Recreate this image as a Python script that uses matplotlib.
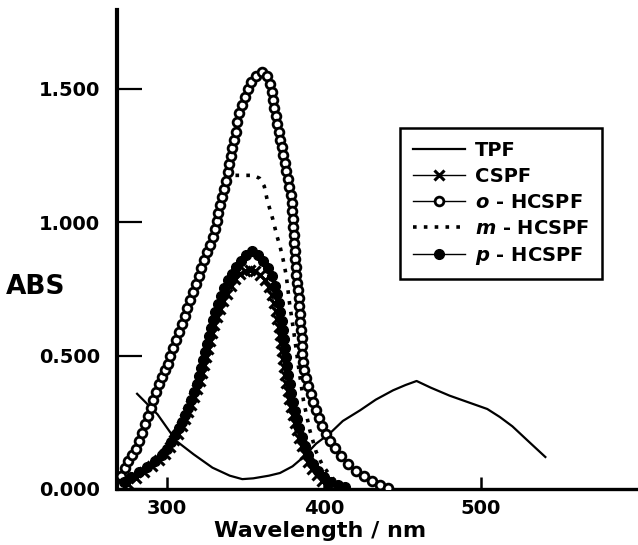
import matplotlib
matplotlib.use("Agg")
import matplotlib.pyplot as plt

plt.rcParams['font.family'] = ['DejaVu Sans']
plt.rcParams['font.weight'] = 'bold'
plt.rcParams['mathtext.fontset'] = 'custom'
plt.rcParams['mathtext.it'] = 'DejaVu Sans:italic:bold'
plt.rcParams['mathtext.rm'] = 'DejaVu Sans:bold'

# TPF (solid line)
tpf_x = [281, 294, 306, 317, 329, 340, 348, 355, 365, 372, 380, 387, 395, 404, 412,
         423, 433, 444, 452, 459, 468, 480, 492, 504, 512, 520, 530, 541]
tpf_y = [0.357, 0.28, 0.18, 0.13, 0.08, 0.05, 0.037, 0.04, 0.05, 0.06, 0.085, 0.12, 0.17, 0.21, 0.255,
         0.295, 0.335, 0.37, 0.39, 0.405, 0.38, 0.35, 0.325, 0.30, 0.27, 0.235, 0.18, 0.12]

# CSPF (x markers)
cspf_x = [275.2, 280.3, 285.4, 290.4, 294.9, 298.7, 301.9, 304.5, 307.0, 309.6, 311.5, 313.4,
          315.3, 317.2, 319.1, 321.0, 322.3, 323.6, 324.8, 326.1, 327.4, 328.7, 329.9, 331.8,
          333.8, 335.7, 338.2, 340.8, 343.3, 346.5, 349.7, 352.9,
          356.1, 359.2, 362.4, 364.9, 366.9, 368.2, 369.4, 370.4, 371.3, 372.0, 372.6, 373.2,
          373.9, 374.5, 375.2, 376.1, 377.1, 378.0, 379.0, 380.3, 381.5, 382.8, 384.4, 386.0,
          387.9, 390.1, 392.7, 395.5, 398.7, 401.9]
cspf_y = [0.019, 0.041, 0.063, 0.086, 0.108, 0.130, 0.156, 0.182, 0.208, 0.235, 0.261, 0.287,
          0.316, 0.346, 0.376, 0.406, 0.436, 0.465, 0.495, 0.525, 0.555, 0.585, 0.614, 0.644,
          0.674, 0.704, 0.733, 0.760, 0.786, 0.808, 0.819, 0.823,
          0.819, 0.804, 0.782, 0.756, 0.726, 0.696, 0.666, 0.637, 0.607, 0.577, 0.547, 0.517,
          0.488, 0.458, 0.428, 0.398, 0.369, 0.339, 0.309, 0.279, 0.249, 0.220, 0.190, 0.160,
          0.130, 0.101, 0.074, 0.052, 0.030, 0.011]

# o-HCSPF (open circles)
o_x = [271.0, 273.0, 275.5, 278.0, 280.5, 282.5, 284.3, 286.0, 287.8, 289.6, 291.4, 293.2,
       295.0, 296.8, 298.6, 300.4, 302.2, 304.0, 305.8, 307.6, 309.4, 311.2, 313.0, 314.8,
       316.6, 318.4, 320.2, 322.0, 323.8, 325.6, 327.4, 329.2, 330.4, 331.6, 332.8, 334.0,
       335.2, 336.4, 337.6, 338.7, 339.7, 340.7, 341.7, 342.7, 343.7, 344.8, 345.9, 347.5,
       349.5, 351.5, 353.5, 356.5, 360.5,
       363.7, 365.6, 366.6, 367.5, 368.5, 369.4, 370.4, 371.3, 372.3, 373.2, 374.2, 375.2,
       376.1, 377.1, 378.0, 379.0, 379.6, 379.9, 380.3, 380.6, 380.9, 381.2, 381.5, 381.8,
       382.2, 382.5, 382.8, 383.4, 383.8, 384.1, 384.7, 385.0, 385.4, 385.7, 386.0, 386.3,
       386.6, 387.3, 388.5, 390.1, 391.7, 393.3, 394.9, 396.8, 398.7, 401.0, 403.8, 407.0,
       410.8, 415.3, 420.4, 425.5, 430.6, 435.7, 440.8]
o_y = [0.050, 0.080, 0.105, 0.128, 0.150, 0.180, 0.210, 0.245, 0.275, 0.305, 0.335, 0.365,
       0.395, 0.420, 0.445, 0.470, 0.500, 0.530, 0.560, 0.590, 0.620, 0.650, 0.680, 0.710,
       0.740, 0.770, 0.800, 0.830, 0.860, 0.890, 0.915, 0.945, 0.975, 1.005, 1.035, 1.065,
       1.095, 1.125, 1.155, 1.190, 1.220, 1.250, 1.280, 1.310, 1.340, 1.375, 1.410, 1.440,
       1.470, 1.500, 1.525, 1.548, 1.564,
       1.549, 1.519, 1.489, 1.459, 1.429, 1.400, 1.370, 1.340, 1.310, 1.281, 1.251, 1.221,
       1.191, 1.162, 1.132, 1.102, 1.072, 1.042, 1.013, 0.983, 0.953, 0.923, 0.894, 0.864,
       0.834, 0.804, 0.774, 0.745, 0.715, 0.685, 0.655, 0.625, 0.596, 0.566, 0.536, 0.506,
       0.477, 0.447, 0.417, 0.387, 0.357, 0.328, 0.298, 0.268, 0.238, 0.208, 0.179, 0.153,
       0.123, 0.093, 0.067, 0.048, 0.030, 0.015, 0.004]

# m-HCSPF (dotted)
m_x = [271, 280, 290, 300, 310, 320, 329, 334, 338, 342, 348, 355, 359, 362, 364, 367.5,
       370, 372, 374, 376, 378, 381, 384, 387, 391, 395, 399, 404, 409, 414]
m_y = [0.05, 0.15, 0.31, 0.47, 0.64, 0.80, 0.945, 1.06, 1.16, 1.176, 1.176, 1.176, 1.165,
       1.135, 1.08, 1.01, 0.95, 0.91, 0.86, 0.80, 0.70, 0.58, 0.45, 0.33, 0.22, 0.14, 0.09,
       0.05, 0.02, 0.005]

# p-HCSPF (filled circles)
p_x = [272.6, 277.1, 282.2, 287.3, 292.4, 296.8, 300.0, 302.5, 305.1, 307.6, 309.6, 311.5,
       313.4, 315.3, 317.2, 319.1, 320.4, 321.7, 322.9, 324.2, 325.5, 326.8, 328.0, 329.3,
       330.6, 332.5, 334.4, 336.3, 338.9, 341.4, 343.9, 347.1, 350.3, 354.1,
       358.0, 361.1, 364.3, 366.9, 368.8, 370.1, 371.3, 372.3, 373.2, 373.9, 374.5, 375.2,
       375.8, 376.4, 377.4, 378.3, 379.3, 380.3, 381.5, 382.8, 384.4, 386.0, 387.9, 390.1,
       393.0, 396.2, 400.0, 404.5, 408.9, 413.4]
p_y = [0.026, 0.045, 0.063, 0.082, 0.104, 0.127, 0.149, 0.175, 0.201, 0.227, 0.253, 0.279,
       0.305, 0.335, 0.365, 0.395, 0.424, 0.454, 0.484, 0.514, 0.544, 0.573, 0.603, 0.633,
       0.663, 0.692, 0.722, 0.752, 0.782, 0.808, 0.834, 0.856, 0.879, 0.894,
       0.879, 0.856, 0.827, 0.797, 0.763, 0.730, 0.696, 0.663, 0.629, 0.596, 0.562, 0.529,
       0.495, 0.462, 0.428, 0.395, 0.361, 0.328, 0.294, 0.261, 0.227, 0.194, 0.160, 0.127,
       0.093, 0.067, 0.045, 0.026, 0.015, 0.007]

x_ticks = [300, 400, 500]
y_ticks = [0.0, 0.5, 1.0, 1.5]
y_labels = ['0.000', '0.500', '1.000', '1.500']

fig = plt.figure(figsize=(6.38, 5.45), dpi=100)
ax = fig.add_axes([117 / 638, 56 / 545, 1 - 117 / 638, 479 / 545])

ax.plot(tpf_x, tpf_y, color='black', lw=1.6, label='TPF', zorder=2)
ax.plot(cspf_x, cspf_y, color='black', lw=1.0, marker='x', ms=6.5, mew=2.2,
        label='CSPF', zorder=3)
ax.plot(o_x, o_y, color='black', lw=1.0, marker='o', ms=6.3, mew=2.0,
        mfc='white', label=r'$\mathit{o}$ - HCSPF', zorder=4)
ax.plot(m_x, m_y, color='black', lw=2.6, ls=(0, (1, 2)),
        label=r'$\mathit{m}$ - HCSPF', zorder=3)
ax.plot(p_x, p_y, color='black', lw=1.0, marker='o', ms=7,
        label=r'$\mathit{p}$ - HCSPF', zorder=5)

ax.set_xlim(268.2, 600)
ax.set_ylim(0, 1.796)
ax.set_xticks(x_ticks)
ax.set_yticks(y_ticks)
ax.set_yticklabels(y_labels)

for s in ['top', 'right']:
    ax.spines[s].set_visible(False)
ax.spines['left'].set_linewidth(3.0)
ax.spines['bottom'].set_linewidth(2.4)

ax.tick_params(axis='y', direction='in', length=18, width=1.6, pad=12, labelsize=14)
ax.tick_params(axis='x', direction='in', length=9, width=1.8, pad=7, labelsize=14)
for t in ax.get_xticklabels() + ax.get_yticklabels():
    t.set_fontweight('bold')

fig.text(320 / 638, 14 / 545, 'Wavelength / nm', ha='center', va='center',
         fontsize=16, fontweight='bold')
fig.text(6 / 638, 258 / 545, 'ABS', ha='left', va='center',
         fontsize=19, fontweight='bold')

leg = ax.legend(loc='upper left', bbox_to_anchor=(400 / 638, 417 / 545),
                bbox_transform=fig.transFigure, borderaxespad=0,
                fancybox=False, edgecolor='black', framealpha=1,
                prop={'weight': 'bold', 'size': 14}, handlelength=2.7,
                labelspacing=0.36, borderpad=0.65, handletextpad=0.5)
leg.get_frame().set_linewidth(1.8)

fig.savefig('out.png', dpi=100)
